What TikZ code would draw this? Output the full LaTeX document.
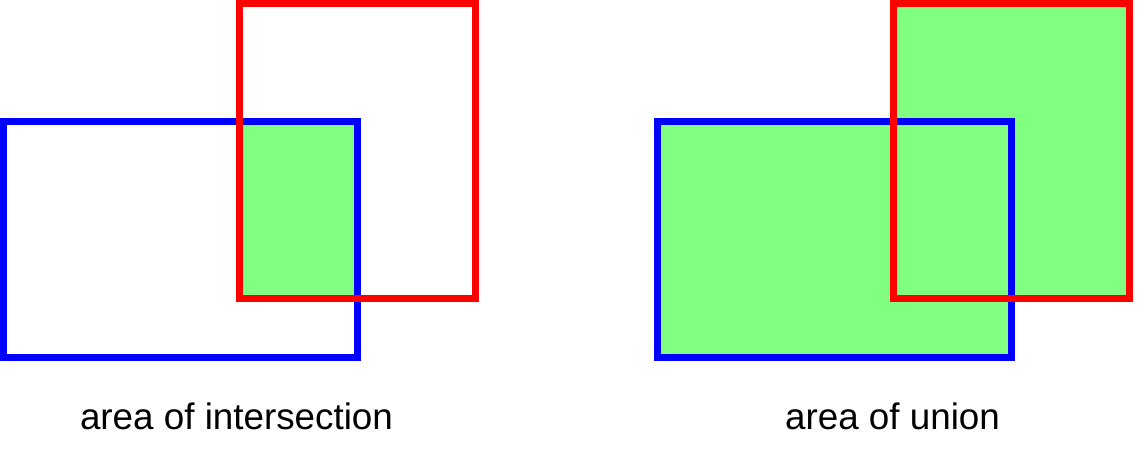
\documentclass[tikz,border=0pt]{standalone}
\usepackage{fontspec}
\setmainfont{Liberation Sans}
\definecolor{fillgreen}{RGB}{128,255,128}
\definecolor{bluebox}{RGB}{0,0,255}
\definecolor{redbox}{RGB}{255,0,0}
\begin{document}
\begin{tikzpicture}[x=1pt,y=-1pt,
  boxline/.style={line width=7pt},
  bluerect/.style={boxline,draw=bluebox},
  redrect/.style={boxline,draw=redbox},
  greenarea/.style={fill=fillgreen},
  caption/.style={font=\fontsize{36.8}{42}\selectfont,anchor=base,inner sep=0pt}]
\useasboundingbox (0,0) rectangle (1146,465);
% left panel: intersection
\fill[greenarea] (239.5,121.5) rectangle (357.5,298.5);
\draw[bluerect] (3.5,121.5) rectangle (357.5,357.5);
\draw[redrect] (239.5,3.5) rectangle (475.5,298.5);
\node[caption] (capI) at (236.5,429.5) {area of intersection};
% right panel: union
\fill[greenarea] (657.5,121.5) rectangle (1011.5,357.5);
\fill[greenarea] (893.5,3.5) rectangle (1129.5,298.5);
\draw[bluerect] (657.5,121.5) rectangle (1011.5,357.5);
\draw[redrect] (893.5,3.5) rectangle (1129.5,298.5);
\node[caption] (capU) at (892.5,429.5) {area of union};
\end{tikzpicture}
\end{document}
